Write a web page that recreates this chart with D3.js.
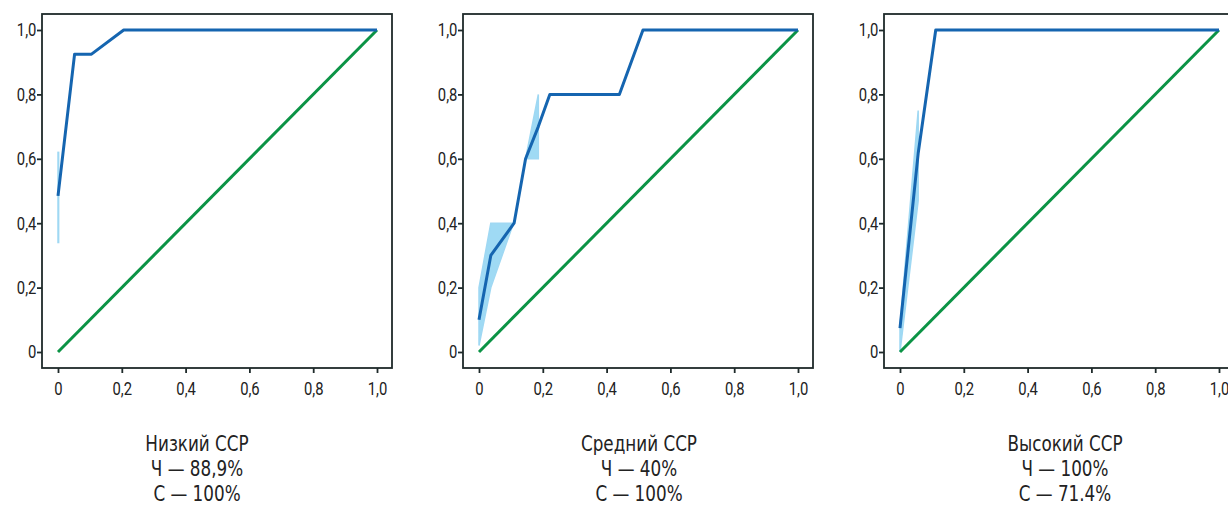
<!DOCTYPE html>
<html>
<head>
<meta charset="utf-8">
<script src="https://cdn.jsdelivr.net/npm/d3@7"></script>
<style>
  body { margin: 0; background: #fff; }
  text { font-family: "Roboto", "DejaVu Sans", sans-serif; fill: #222; }
</style>
</head>
<body>
<div id="chart"></div>
<script>
// captions
const titles = ["Низкий ССР", "Средний ССР", "Высокий ССР"];
const sensText = ["Ч — 88,9%", "Ч — 40%", "Ч — 100%"];
const specText = ["С — 100%", "С — 100%", "С — 71.4%"];

// ROC curves (1 - specificity, sensitivity)
const lowFpr = [0, 0.052, 0.105, 0.206, 1.0];
const lowTpr = [0.485, 0.925, 0.925, 1.0, 1.0];
const midFpr = [0, 0.037, 0.11, 0.146, 0.186, 0.222, 0.44, 0.514, 1.0];
const midTpr = [0.10, 0.30, 0.40, 0.60, 0.70, 0.80, 0.80, 1.0, 1.0];
const highFpr = [0, 0.057, 0.112, 1.0];
const highTpr = [0.074, 0.617, 1.0, 1.0];

// confidence bands: x, lower, upper
const lowBands = [
    {x: [0, 0.002], lo: [0.34, 0.34], hi: [0.62, 0.62]}
];
const midBands = [
    {x: [0, 0.037, 0.108], lo: [0.02, 0.20, 0.40], hi: [0.20, 0.40, 0.40]},
    {x: [0.146, 0.186], lo: [0.60, 0.60], hi: [0.60, 0.80]}
];
const highBands = [
    {x: [0, 0.057], lo: [0.0, 0.47], hi: [0.08, 0.75]}
];

// reference diagonal
const diagX = [0, 1];
const diagY = [0, 1];

const xTicks = [0, 0.2, 0.4, 0.6, 0.8, 1.0];
const yTicks = [0, 0.2, 0.4, 0.6, 0.8, 1.0];

const panels = [
    {fpr: lowFpr, tpr: lowTpr, bands: lowBands, captionX: 197},
    {fpr: midFpr, tpr: midTpr, bands: midBands, captionX: 639},
    {fpr: highFpr, tpr: highTpr, bands: highBands, captionX: 1065}
];

const svgWidth = 1228, svgHeight = 508;
const frameW = 350, frameH = 354, frameTop = 14, step = 421, firstLeft = 42;

const svg = d3.select("#chart").append("svg")
    .attr("width", svgWidth)
    .attr("height", svgHeight);

const fmt = v => v === 0 ? "0" : d3.format(".1f")(v).replace(".", ",");

panels.forEach(function(p, i) {
    const left = firstLeft + i * step;
    const g = svg.append("g").attr("transform", `translate(${left}, ${frameTop})`);

    const x = d3.scaleLinear().domain([0, 1]).range([16, 335]);
    const y = d3.scaleLinear().domain([0, 1]).range([338, 16]);

    // frame
    g.append("rect")
        .attr("width", frameW).attr("height", frameH)
        .attr("fill", "none").attr("stroke", "#1e2a2a").attr("stroke-width", 1.8);

    // axes (ticks only, outside the frame)
    const xAxis = g.append("g")
        .attr("transform", `translate(0, ${frameH})`)
        .call(d3.axisBottom(x).tickValues(xTicks).tickFormat(fmt).tickSize(5).tickPadding(9));
    const yAxis = g.append("g")
        .call(d3.axisLeft(y).tickValues(yTicks).tickFormat(fmt).tickSize(5).tickPadding(2));
    [xAxis, yAxis].forEach(a => {
        a.select(".domain").remove();
        a.selectAll(".tick line").attr("stroke", "#1e2a2a").attr("stroke-width", 1.8);
        a.selectAll(".tick text")
            .style("font-family", "Roboto, sans-serif")
            .style("font-size", "18.5px")
            .attr("fill", "#222")
            .attr("transform", "scale(0.8,1)");
    });

    // confidence bands
    p.bands.forEach(function(b) {
        const pts = b.x.map((v, k) => ({x: v, lo: b.lo[k], hi: b.hi[k]}));
        g.append("path")
            .datum(pts)
            .attr("fill", "#7fcdf0")
            .attr("fill-opacity", 0.75)
            .attr("stroke", "#9fd8f3")
            .attr("stroke-width", 1.5)
            .attr("d", d3.area().x(d => x(d.x)).y0(d => y(d.lo)).y1(d => y(d.hi)));
    });

    // diagonal
    g.append("path")
        .datum(diagX.map((v, k) => [v, diagY[k]]))
        .attr("fill", "none")
        .attr("stroke", "#0b9345")
        .attr("stroke-width", 3)
        .attr("d", d3.line().x(d => x(d[0])).y(d => y(d[1])));

    // ROC curve
    g.append("path")
        .datum(p.fpr.map((v, k) => [v, p.tpr[k]]))
        .attr("fill", "none")
        .attr("stroke", "#1565b0")
        .attr("stroke-width", 3)
        .attr("stroke-linejoin", "round")
        .attr("d", d3.line().x(d => x(d[0])).y(d => y(d[1])));

    // caption (DejaVu has a long em dash, squeezed to look condensed)
    const cap = svg.append("text")
        .attr("transform", `translate(${p.captionX}, 0) scale(0.8,1)`)
        .attr("text-anchor", "middle")
        .style("font-family", "'DejaVu Sans', sans-serif")
        .style("font-size", "21px");
    [titles[i], sensText[i], specText[i]].forEach(function(t, k) {
        cap.append("tspan").attr("x", 0).attr("y", 451 + k * 25).text(t);
    });
});
</script>
</body>
</html>
